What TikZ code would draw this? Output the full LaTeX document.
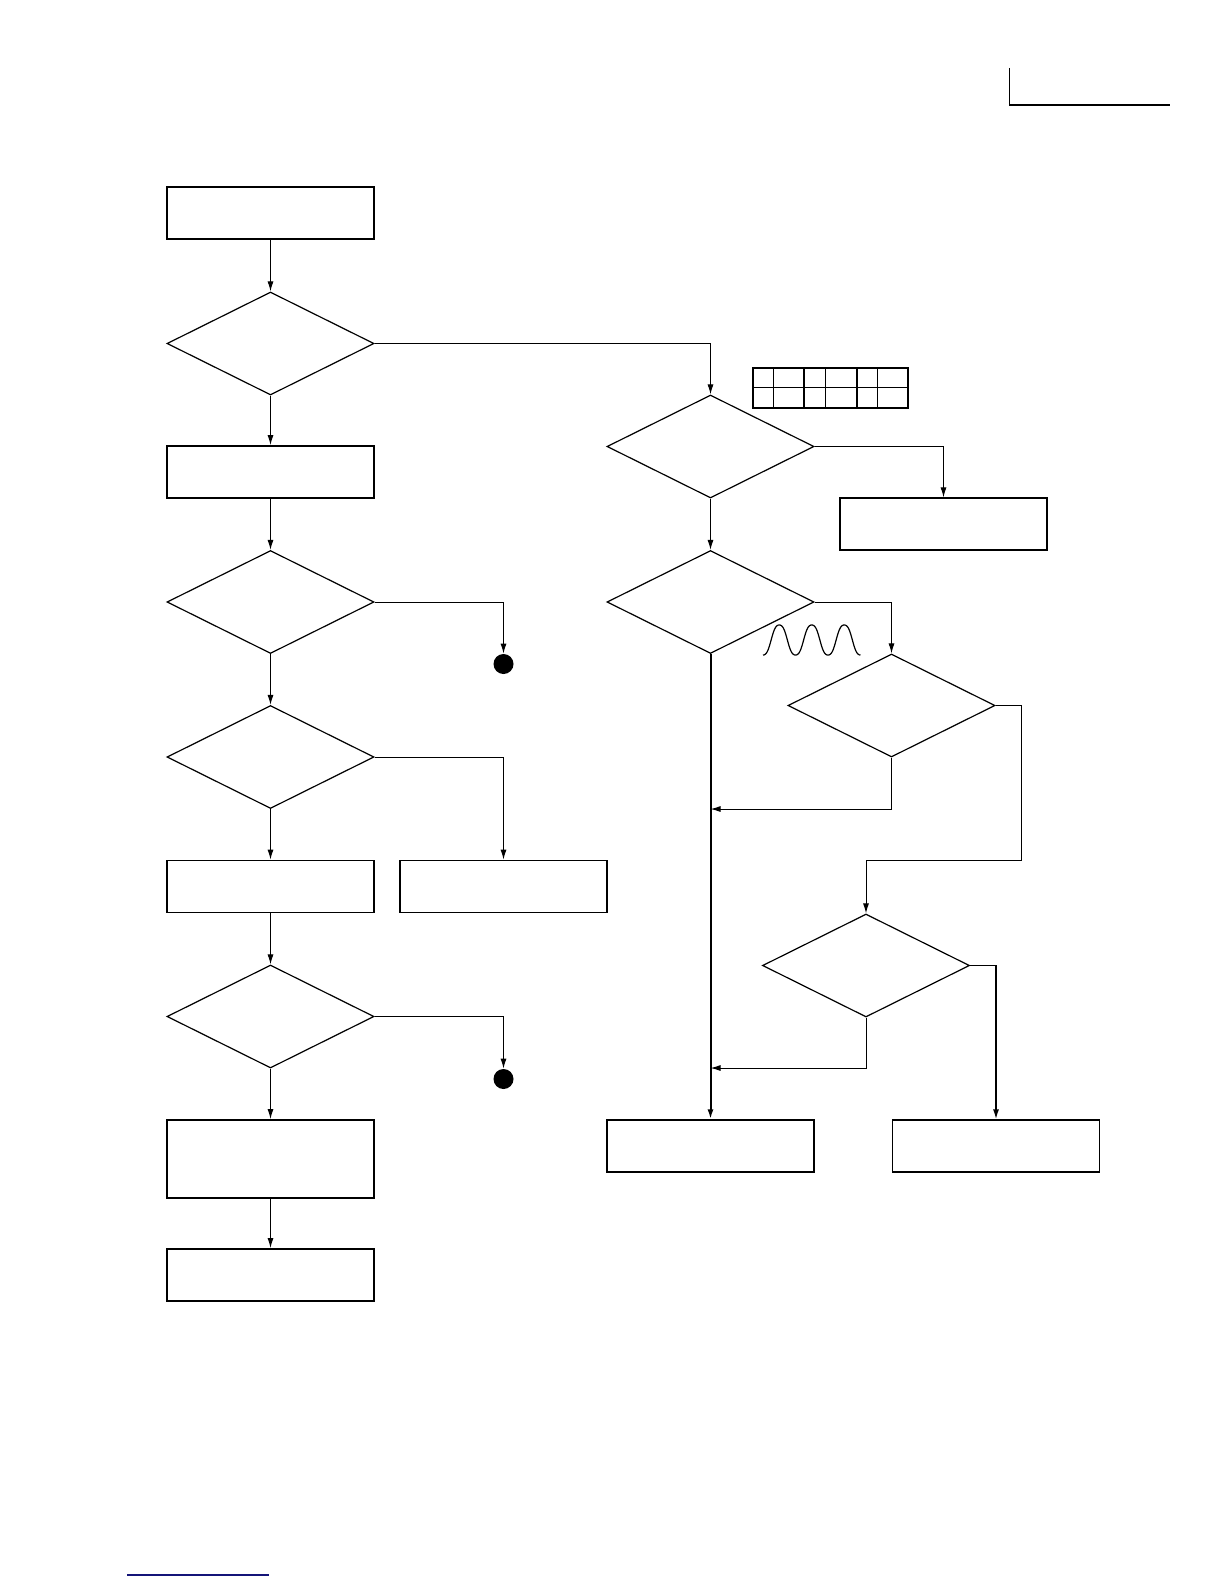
\documentclass[tikz,border=0pt]{standalone}
\usetikzlibrary{shapes.geometric,arrows.meta}
\tikzset{
  boxnode/.style={draw,line width=0.9pt,rectangle,minimum width=103.5pt,minimum height=26pt,inner sep=0pt},
  thinbox/.style={boxnode,line width=0.6pt},
  tallbox/.style={boxnode,minimum height=39pt},
  decnode/.style={draw,line width=0.6pt,diamond,minimum width=103.5pt,minimum height=51.5pt,inner sep=0pt},
  conn/.style={line width=0.5pt,-{Latex[length=5pt,width=3pt]}},
  dot/.style={circle,fill=black,minimum size=10pt,inner sep=0pt},
}
\begin{document}
\begin{tikzpicture}[x=0.5pt,y=-0.5pt]
\useasboundingbox (0,0) rectangle (1224,1584);
% left column
\node[boxnode] (b1) at (270.5,213) {};
\node[decnode] (d1) at (270.5,343.5) {};
\node[boxnode] (b2) at (270.5,472) {};
\node[decnode] (d2) at (270.5,602) {};
\node[decnode] (d3) at (270.5,757) {};
\node[boxnode] (b3) at (270.5,886.5) {};
\node[boxnode] (b3r) at (503.5,886.5) {};
\node[decnode] (d4) at (270.5,1016.5) {};
\node[tallbox] (b4) at (270.5,1159) {};
\node[boxnode] (b5) at (270.5,1275) {};
\node[dot] (c1) at (503.5,664) {};
\node[dot] (c2) at (503.5,1079) {};
% right column
\node[decnode] (dA) at (710.5,446.5) {};
\node[thinbox] (bA) at (943.5,524) {};
\node[decnode] (dB) at (710.5,602) {};
\node[decnode] (dC) at (891.5,705.5) {};
\node[decnode] (dD) at (866,965.5) {};
\node[thinbox] (bM) at (710.5,1146) {};
\node[thinbox] (bR) at (996,1146) {};
\coordinate (j1) at (710.5,809);
\coordinate (j2) at (710.5,1068);
\coordinate (k1) at (1021,860);
% left connectors
\draw[conn] (b1.south) -- (d1.north);
\draw[conn] (d1.south) -- (b2.north);
\draw[conn] (b2.south) -- (d2.north);
\draw[conn] (d2.east) -| (c1.north);
\draw[conn] (d2.south) -- (d3.north);
\draw[conn] (d3.east) -| (b3r.north);
\draw[conn] (d3.south) -- (b3.north);
\draw[conn] (b3.south) -- (d4.north);
\draw[conn] (d4.east) -| (c2.north);
\draw[conn] (d4.south) -- (b4.north);
\draw[conn] (b4.south) -- (b5.north);
% right connectors
\draw[conn] (d1.east) -| (dA.north);
\draw[conn] (dA.east) -| (bA.north);
\draw[conn] (dA.south) -- (dB.north);
\draw[conn] (dB.east) -| (dC.north);
\draw[conn,line width=1pt] (dB.south) -- (bM.north);
\draw[conn] (dC.south) |- (j1);
\draw[conn] (dC.east) -| (k1) -| (dD.north);
\draw[conn] (dD.south) |- (j2);
\draw[conn,line width=0.8pt] (dD.east) -| (bR.north);
% table
\draw[line width=0.9pt] (753.3,367.7) rectangle (907.7,407.7);
\draw[line width=0.5pt] (753.3,387.7) -- (907.7,387.7);
\draw[line width=0.5pt] (773.3,367.7) -- (773.3,407.7);
\draw[line width=0.5pt] (825,367.7) -- (825,407.7);
\draw[line width=0.5pt] (877.3,367.7) -- (877.3,407.7);
\draw[line width=0.9pt] (804.3,367.7) -- (804.3,407.7);
\draw[line width=0.9pt] (857.3,367.7) -- (857.3,407.7);
% waveform
\draw[line width=0.6pt] plot[domain=0:3,samples=150,smooth] ({763+\x*32.5},{640+16*(cos(360*\x)-0.06*cos(1080*\x))});
% page marks
\draw[line width=0.6pt] (1009.5,68) -- (1009.5,105) -- (1170,105);
\draw[line width=0.6pt,color={rgb,255:red,20;green,20;blue,120}] (127,1575) -- (269,1575);
\end{tikzpicture}
\end{document}
